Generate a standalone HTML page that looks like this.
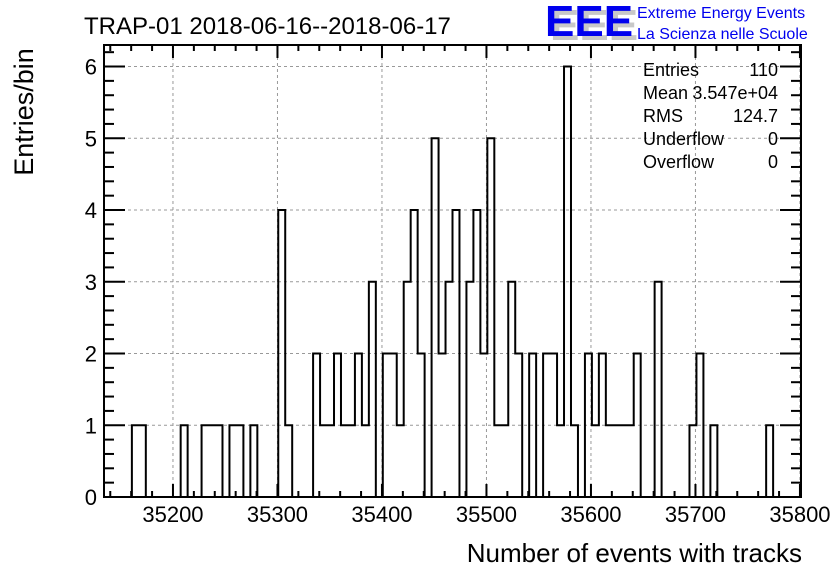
<!DOCTYPE html>
<html><head><meta charset="utf-8"><style>
html,body{margin:0;padding:0;background:#fff;}
svg{display:block;font-family:"Liberation Sans",Arial,sans-serif;}
</style></head><body>
<svg id="chart" width="836" height="572" viewBox="0 0 836 572" xmlns="http://www.w3.org/2000/svg">
<rect x="0" y="0" width="836" height="572" fill="#fff"/>
<g id="grid"></g>
<g id="hist"></g>
<g id="axes"></g>
<text x="84" y="34" font-size="24" fill="#000">TRAP-01 2018-06-16--2018-06-17</text>
<text transform="translate(33,112) rotate(-90)" text-anchor="middle" font-size="27" fill="#000">Entries/bin</text>
<text x="802" y="562" text-anchor="end" font-size="26" fill="#000">Number of events with tracks</text>
<g>
<text x="550" y="40" font-size="44" font-weight="bold" fill="#c8c8c8">EEE</text>
<text x="545" y="36" font-size="44" font-weight="bold" fill="#0000ee">EEE</text>
<text x="637" y="18" font-size="16" fill="#0000ee">Extreme Energy Events</text>
<text x="637" y="39" font-size="16" fill="#0000ee">La Scienza nelle Scuole</text>
</g>
<g font-size="18" fill="#000">
<text x="643" y="76">Entries</text>
<text x="778" y="76" text-anchor="end">110</text>
<text x="643" y="99">Mean</text>
<text x="778" y="99" text-anchor="end">3.547e+04</text>
<text x="643" y="122">RMS</text>
<text x="778" y="122" text-anchor="end">124.7</text>
<text x="643" y="145">Underflow</text>
<text x="778" y="145" text-anchor="end">0</text>
<text x="643" y="168">Overflow</text>
<text x="778" y="168" text-anchor="end">0</text>
</g>
</svg>
<script>
const xMin = 35134, xMax = 35801;
const yMin = 0, yMax = 6.3;
const xTickLabels = [35200, 35300, 35400, 35500, 35600, 35700, 35800];
const yTickLabels = [0, 1, 2, 3, 4, 5, 6];
const binCounts = [
0,0,0,0,1,1,0,0,0,0, 0,1,0,0,1,1,1,0,1,1,
0,1,0,0,0,4,1,0,0,0, 2,1,1,2,1,1,2,1,3,0,
2,2,1,3,4,2,0,5,2,3, 4,0,3,4,2,5,1,1,3,2,
0,2,0,2,2,1,6,1,0,2, 1,2,1,1,1,1,2,0,0,3,
0,0,0,0,1,2,0,1,0,0, 0,0,0,0,0,1,0,0,0,0];

const L = 104, R = 801, T = 45, B = 497;
const NS = 'http://www.w3.org/2000/svg';
function sx(v){ return L + (v - xMin) / (xMax - xMin) * (R - L); }
function sy(v){ return B - (v - yMin) / (yMax - yMin) * (B - T); }
function mk(tag, attrs, parent){
  const e = document.createElementNS(NS, tag);
  for (const k in attrs) e.setAttribute(k, attrs[k]);
  parent.appendChild(e); return e;
}
const grid = document.getElementById('grid');
const axes = document.getElementById('axes');
const hist = document.getElementById('hist');

xTickLabels.forEach(v => {
  const x = sx(v);
  if (x < R - 1) {
    const g = mk('line', {x1:x, x2:x, y1:T, y2:B, stroke:'#999', 'stroke-width':1, 'stroke-dasharray':'3,3'}, grid);
    
    
  }
});
yTickLabels.forEach(v => {
  const y = sy(v);
  if (v > 0) {
    const g = mk('line', {x1:L, x2:R, y1:y, y2:y, stroke:'#999', 'stroke-width':1, 'stroke-dasharray':'3,3'}, grid);
    
    
  }
});

// histogram step path
const nb = binCounts.length;
const bw = (xMax - xMin) / nb;
let d = 'M' + sx(xMin) + ' ' + sy(0);
for (let i = 0; i < nb; i++) {
  const x0 = sx(xMin + i * bw), x1 = sx(xMin + (i + 1) * bw), y = sy(binCounts[i]);
  d += ' L' + x0 + ' ' + y + ' L' + x1 + ' ' + y;
}
d += ' L' + sx(xMax) + ' ' + sy(0);
const hp = mk('path', {d:d, fill:'none', stroke:'#000', 'stroke-width':2}, hist);



// frame
const fr = mk('rect', {x:L, y:T, width:R-L, height:B-T, fill:'none', stroke:'#000', 'stroke-width':2}, axes);



// x ticks
for (let v = 35140; v <= xMax; v += 20) {
  const x = sx(v);
  const major = v % 100 === 0;
  const len = major ? 13 : 6;
  const t1 = mk('line', {x1:x, x2:x, y1:B, y2:B-len, stroke:'#000', 'stroke-width':2}, axes);
  
  
  const t2 = mk('line', {x1:x, x2:x, y1:T, y2:T+len, stroke:'#000', 'stroke-width':2}, axes);
  
  
}
xTickLabels.forEach(v => {
  const t = mk('text', {x:sx(v), y:522, 'text-anchor':'middle', 'font-size':22, fill:'#000'}, axes);
  t.textContent = v;
  
  
});
// y ticks
for (let k = 0; k <= 31; k++) {
  const v = k * 0.2;
  if (v > yMax) break;
  const y = sy(v);
  const major = k % 5 === 0;
  const len = major ? 21 : 10;
  const t1 = mk('line', {x1:L, x2:L+len, y1:y, y2:y, stroke:'#000', 'stroke-width':2}, axes);
  
  
  const t2 = mk('line', {x1:R, x2:R-len, y1:y, y2:y, stroke:'#000', 'stroke-width':2}, axes);
  
  
}
yTickLabels.forEach(v => {
  const t = mk('text', {x:97, y:sy(v)+8, 'text-anchor':'end', 'font-size':22, fill:'#000'}, axes);
  t.textContent = v;
  
  
});
</script>
</body></html>
